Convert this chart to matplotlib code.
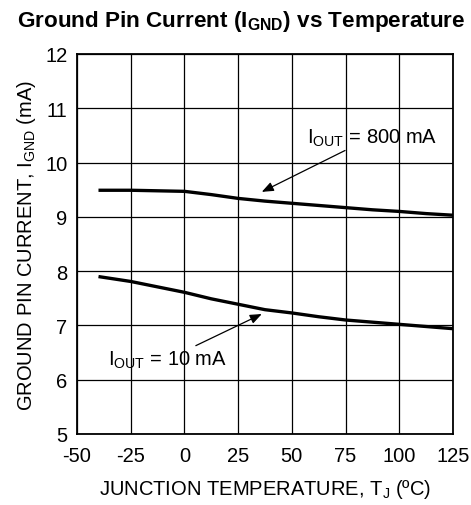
import matplotlib
matplotlib.use("Agg")
import matplotlib.pyplot as plt

plt.rcParams['font.family'] = ['Liberation Sans', 'DejaVu Sans']
plt.rcParams['mathtext.fontset'] = 'custom'
plt.rcParams['mathtext.rm'] = 'Liberation Sans'
plt.rcParams['mathtext.it'] = 'Liberation Sans'
plt.rcParams['mathtext.bf'] = 'Liberation Sans:bold'
plt.rcParams['axes.unicode_minus'] = False

temp = [-40, -25, -12.5, 0, 12.5, 25, 37.5, 50, 62.5, 75, 87.5, 100, 112.5, 125]
i_800 = [9.49, 9.49, 9.48, 9.47, 9.41, 9.34, 9.29, 9.25, 9.21, 9.17, 9.13, 9.10, 9.06, 9.03]
i_10 = [7.90, 7.81, 7.71, 7.61, 7.49, 7.39, 7.29, 7.23, 7.16, 7.10, 7.06, 7.02, 6.98, 6.94]

xticks = [-50, -25, 0, 25, 50, 75, 100, 125]
yticks = [5, 6, 7, 8, 9, 10, 11, 12]

FS = 14.5

fig = plt.figure(figsize=(4.71, 5.06), dpi=100)
ax = fig.add_axes([77/471, 1-435/506, (453-77)/471, (435-55)/506])

ax.plot(temp, i_800, color='black', lw=2.4, solid_capstyle='butt')
ax.plot(temp, i_10, color='black', lw=2.4, solid_capstyle='butt')

ax.set_xlim(-50, 125)
ax.set_ylim(5, 12)
ax.set_xticks(xticks)
ax.set_yticks(yticks)
ax.grid(True, color='black', lw=0.9)
ax.tick_params(length=0, labelsize=FS)
ax.tick_params(axis='y', pad=7)
ax.tick_params(axis='x', pad=9)
for s in ax.spines.values():
    s.set_linewidth(1.3)

arrow = dict(arrowstyle='-|>,head_length=0.5,head_width=0.2', color='black', lw=0.9,
             mutation_scale=14, shrinkA=0, shrinkB=0)
ax.annotate(r'$\mathregular{I_{OUT}}$ = 800 mA', xy=(36, 9.46), xytext=(57, 10.47),
            fontsize=FS, va='center', ha='left', arrowprops=arrow)
ax.annotate(r'$\mathregular{I_{OUT}}$ = 10 mA', xy=(36, 7.21), xytext=(20, 6.38),
            fontsize=FS, va='center', ha='right', arrowprops=arrow)

ax.set_xlabel(r'JUNCTION TEMPERATURE, $\mathregular{T_J}$ (ºC)', fontsize=FS, labelpad=8)
ax.set_ylabel(r'GROUND PIN CURRENT, $\mathregular{I_{GND}}$ (mA)', fontsize=FS, labelpad=5)
fig.text(241/471, 1-22/506, r'Ground Pin Current ($\mathbf{I_{GND}}$) vs Temperature',
         fontsize=16.2, fontweight='bold', ha='center', va='center')

fig.savefig('out.png', dpi=100)
